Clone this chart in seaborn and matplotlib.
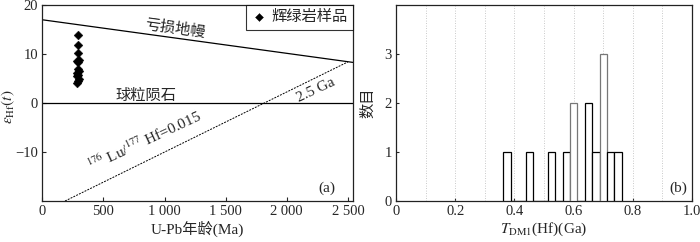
import numpy as np
import pandas as pd
import seaborn as sns
import matplotlib.pyplot as plt

# 左图: 辉绿岩样品 U-Pb 年龄 vs εHf(t)
sample_age = [295, 290, 295, 285, 290, 300, 290, 300, 285, 295, 280, 300, 290, 280]
sample_ehf = [13.8, 11.9, 10.2, 8.6, 8.3, 8.8, 7.0, 6.5, 6.2, 5.8, 5.5, 5.0, 4.6, 4.0]

# 参考线
dm_age = [0, 2540]
dm_ehf = [17.0, 8.3]
chur_age = [0, 2540]
chur_ehf = [0, 0]
crust_age = [186, 2500]
crust_ehf = [-20, 8.4]

age_ticks = [0, 500, 1000, 1500, 2000, 2500]
age_ticklabels = ["0", "500", "1 000", "1 500", "2 000", "2 500"]
ehf_ticks = [-10, 0, 10, 20]

# 右图: TDM1(Hf) 模式年龄 (Ga)
tdm1 = [0.375, 0.45, 0.525, 0.575, 0.60, 0.60, 0.65, 0.65, 0.675,
        0.70, 0.70, 0.70, 0.725, 0.75]
tdm_ticks = [0, 0.2, 0.4, 0.6, 0.8, 1.0]
tdm_ticklabels = ["0", "0.2", "0.4", "0.6", "0.8", "1.0"]
count_ticks = [0, 1, 2, 3]

sns.set_style("ticks")
plt.rcParams["font.family"] = ["Liberation Serif", "Noto Sans CJK SC"]
plt.rcParams["mathtext.fontset"] = "stix"
plt.rcParams["font.size"] = 10.5
plt.rcParams["axes.linewidth"] = 0.9
plt.rcParams["xtick.direction"] = "in"
plt.rcParams["ytick.direction"] = "in"

fig = plt.figure(figsize=(7, 2.42), dpi=100)
ax1 = fig.add_axes([0.0604, 0.1694, 0.4436, 0.8096])
ax2 = fig.add_axes([0.5657, 0.1694, 0.4229, 0.8096])

"""左图"""
sns.lineplot(x=dm_age, y=dm_ehf, ax=ax1, color="black", lw=0.9)
sns.lineplot(x=chur_age, y=chur_ehf, ax=ax1, color="black", lw=0.9)
sns.lineplot(x=crust_age, y=crust_ehf, ax=ax1, color="black", lw=0.7,
             linestyle=(0, (2, 1.2)))
sns.scatterplot(x=sample_age, y=sample_ehf, ax=ax1, marker="D", s=20,
                color="black", edgecolor="black", linewidth=0.3,
                label="辉绿岩样品", zorder=5)
ax1.set_xlim(0, 2540)
ax1.set_ylim(-20, 20)
ax1.set_xticks(age_ticks)
ax1.set_xticklabels(age_ticklabels)
ax1.set_yticks(ehf_ticks)
ax1.tick_params(length=3, width=0.8, labelsize=10.5, pad=3)
ax1.set_xlabel("U-Pb年龄(Ma)", fontsize=11, labelpad=2)
ax1.set_ylabel(r"$\varepsilon_{\rm Hf}(t)$", fontsize=11)
ax1.yaxis.set_label_coords(-0.08, 0.48)

leg = ax1.legend(loc="upper right", frameon=True, fancybox=False,
                 borderaxespad=0, handletextpad=0.3, handlelength=1.0,
                 borderpad=0.35, fontsize=11, markerscale=0.9)
leg.get_frame().set_edgecolor("black")
leg.get_frame().set_linewidth(0.8)

ax1.text(1090, 15.2, "亏损地幔", rotation=-7.8, ha="center", va="center",
         fontsize=11)
ax1.text(850, 1.4, "球粒陨石", ha="center", va="center", fontsize=11)
ax1.text(2235, 2.6, "2.5 Ga", rotation=25, ha="center", va="center",
         fontsize=11)
ax1.text(835, -7.8, r"$^{176}$ Lu/$^{177}$ Hf=0.015", rotation=25,
         ha="center", va="center", fontsize=11)
ax1.text(0.945, 0.065, "(a)", transform=ax1.transAxes, ha="right",
         va="center", fontsize=11)

"""右图"""
sns.histplot(x=tdm1, ax=ax2, binwidth=0.025, binrange=(0.3625, 0.7625),
             stat="count", color="white", edgecolor="black", linewidth=0.9,
             alpha=1, zorder=3)
# 部分柱子边框颜色较浅
for p in ax2.patches:
    if p.get_height() >= 2 and abs(p.get_x() - 0.5875) < 0.005:
        p.set_edgecolor("#777777")
    if p.get_height() >= 3:
        p.set_edgecolor("#777777")
for gx in np.arange(0.1, 1.0, 0.1):
    ax2.axvline(gx, color="#b8b8b8", lw=0.6, linestyle=(0, (1, 2)), zorder=1)
ax2.set_xlim(0, 1.0)
ax2.set_ylim(0, 4)
ax2.set_xticks(tdm_ticks)
ax2.set_xticklabels(tdm_ticklabels)
ax2.set_yticks(count_ticks)
ax2.tick_params(length=2.5, width=0.8, labelsize=10.5, pad=3)
ax2.set_xlabel(r"$T_{\rm DM1}$(Hf)(Ga)", fontsize=11, labelpad=2)
ax2.set_ylabel("数目", fontsize=11)
ax2.yaxis.set_label_coords(-0.07, 0.5)
ax2.text(0.983, 0.065, "(b)", transform=ax2.transAxes, ha="right",
         va="center", fontsize=11)

for ax in (ax1, ax2):
    for s in ax.spines.values():
        s.set_color("#222222")

plt.savefig("out.png", dpi=100)
